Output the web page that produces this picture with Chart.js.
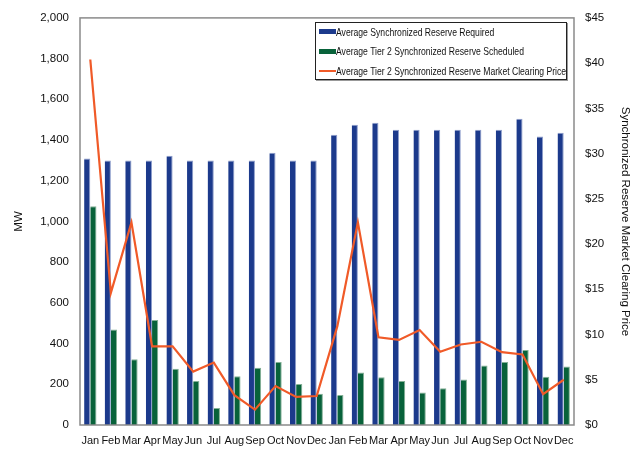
<!DOCTYPE html>
<html lang="en">
<head>
    <meta charset="UTF-8">
    <title>Synchronized Reserve</title>
    <script src="https://cdn.jsdelivr.net/npm/chart.js"></script>
    <style>
        html, body { margin: 0; padding: 0; background: #fff; }
        #wrap { position: relative; width: 635px; height: 451px; }
        #legend {
            position: absolute; left: 315px; top: 22px; width: 252px; height: 58px;
            border: 1px solid #222; box-shadow: 1px 1px 0 #999; background: #fff;
            font-family: "Liberation Sans", Arial, sans-serif;
            font-size: 10.5px; color: #111; box-sizing: border-box;
        }
        #legend .rows { position: relative; top: -1px; }
        .item { display: flex; align-items: center; height: 19.6px; padding-left: 3px; white-space: nowrap; }
        .sw { width: 17px; flex: none; }
        .txt { display: inline-block; transform: scaleX(0.82); transform-origin: left center; }
    </style>
</head>
<body>
<div id="wrap">
    <canvas id="chart" width="635" height="451"></canvas>
    <div id="legend"></div>
</div>
<script>
    // Chart data
    const months = ['Jan','Feb','Mar','Apr','May','Jun','Jul','Aug','Sep','Oct','Nov','Dec',
                    'Jan','Feb','Mar','Apr','May','Jun','Jul','Aug','Sep','Oct','Nov','Dec'];
    const reserveRequired = [1309, 1299, 1300, 1300, 1323, 1300, 1300, 1300, 1300, 1338, 1300, 1300,
                             1426, 1475, 1485, 1451, 1451, 1451, 1451, 1451, 1451, 1505, 1417, 1436];
    const tier2Scheduled = [1075, 469, 323, 516, 276, 216, 83, 240, 281, 309, 201, 154,
                            147, 258, 235, 216, 160, 180, 224, 292, 309, 369, 237, 288];
    const clearingPrice = [40.4, 14.6, 22.4, 8.7, 8.7, 5.9, 6.9, 3.3, 1.7, 4.3, 3.1, 3.2,
                           10.9, 22.4, 9.7, 9.4, 10.5, 8.1, 8.9, 9.2, 8.05, 7.8, 3.4, 5.0];
    const mwTicks = [0, 200, 400, 600, 800, 1000, 1200, 1400, 1600, 1800, 2000];

    const colors = {
        required: '#1c3a8c',
        scheduled: '#08623a',
        price: '#f05a28'
    };

    const font = "'Liberation Sans', Arial, sans-serif";

    // gray frame around the plot area
    const frame = {
        id: 'frame',
        afterDatasetsDraw(chart) {
            const a = chart.chartArea;
            const ctx = chart.ctx;
            ctx.save();
            ctx.strokeStyle = '#8a8a8a';
            ctx.lineWidth = 1.5;
            ctx.strokeRect(a.left, a.top, a.right - a.left, a.bottom - a.top);
            ctx.restore();
        }
    };

    const chart = new Chart(document.getElementById('chart'), {
        type: 'bar',
        data: {
            labels: months,
            datasets: [
                {
                    type: 'line',
                    label: 'Average Tier 2 Synchronized Reserve Market Clearing Price',
                    data: clearingPrice,
                    yAxisID: 'y2',
                    borderColor: colors.price,
                    borderWidth: 2.2,
                    pointRadius: 0,
                    tension: 0,
                    order: 0
                },
                {
                    label: 'Average Synchronized Reserve Required',
                    data: reserveRequired,
                    backgroundColor: colors.required,
                    borderColor: '#8d9dcb',
                    borderWidth: { top: 1, right: 1, left: 0, bottom: 0 },
                    categoryPercentage: 0.6,
                    barPercentage: 1,
                    order: 1
                },
                {
                    label: 'Average Tier 2 Synchronized Reserve Scheduled',
                    data: tier2Scheduled,
                    backgroundColor: colors.scheduled,
                    borderColor: '#84b096',
                    borderWidth: { top: 1, right: 1, left: 0, bottom: 0 },
                    categoryPercentage: 0.6,
                    barPercentage: 1,
                    order: 1
                }
            ]
        },
        options: {
            responsive: false,
            animation: false,
            layout: { padding: { top: 17, right: 0, bottom: 0, left: 0 } },
            plugins: {
                legend: { display: false },
                tooltip: { enabled: false }
            },
            scales: {
                x: {
                    grid: { display: false, drawTicks: false },
                    border: { display: false },
                    ticks: {
                        autoSkip: false, maxRotation: 0, minRotation: 0, padding: 9,
                        color: '#111', font: { family: font, size: 11 }
                    },
                    afterFit(scale) { scale.height = 26; }
                },
                y: {
                    position: 'left',
                    min: 0, max: 2000,
                    afterBuildTicks(scale) { scale.ticks = mwTicks.map(v => ({ value: v })); },
                    grid: { display: false, drawTicks: false },
                    border: { display: false },
                    ticks: {
                        padding: 11, color: '#111', font: { family: font, size: 11.5 },
                        callback: v => v.toLocaleString('en-US')
                    },
                    title: {
                        display: true, text: 'MW', color: '#111',
                        font: { family: font, size: 11.5 }, padding: { top: 12, bottom: 0 }
                    },
                    afterFit(scale) { scale.width = 80; }
                },
                y2: {
                    position: 'right',
                    min: 0, max: 45,
                    grid: { display: false, drawTicks: false },
                    border: { display: false },
                    ticks: {
                        stepSize: 5, padding: 11, color: '#111', font: { family: font, size: 11.5 },
                        callback: v => '$' + v
                    },
                    title: {
                        display: true, text: 'Synchronized Reserve Market Clearing Price', color: '#111',
                        font: { family: font, size: 11.5 }, padding: { top: 3, bottom: 0 }
                    },
                    afterFit(scale) { scale.width = 61; }
                }
            }
        },
        plugins: [frame]
    });

    // legend box inside the plot, in the original's order
    const legendOrder = [1, 2, 0];
    document.getElementById('legend').innerHTML = '<div class="rows">' + legendOrder.map(i => {
        const ds = chart.data.datasets[i];
        const sw = ds.type === 'line'
            ? `<span class="sw" style="height:2px;background:${ds.borderColor}"></span>`
            : `<span class="sw" style="height:5px;background:${ds.backgroundColor}"></span>`;
        return `<div class="item">${sw}<span class="txt">${ds.label}</span></div>`;
    }).join('') + '</div>';
</script>
</body>
</html>
